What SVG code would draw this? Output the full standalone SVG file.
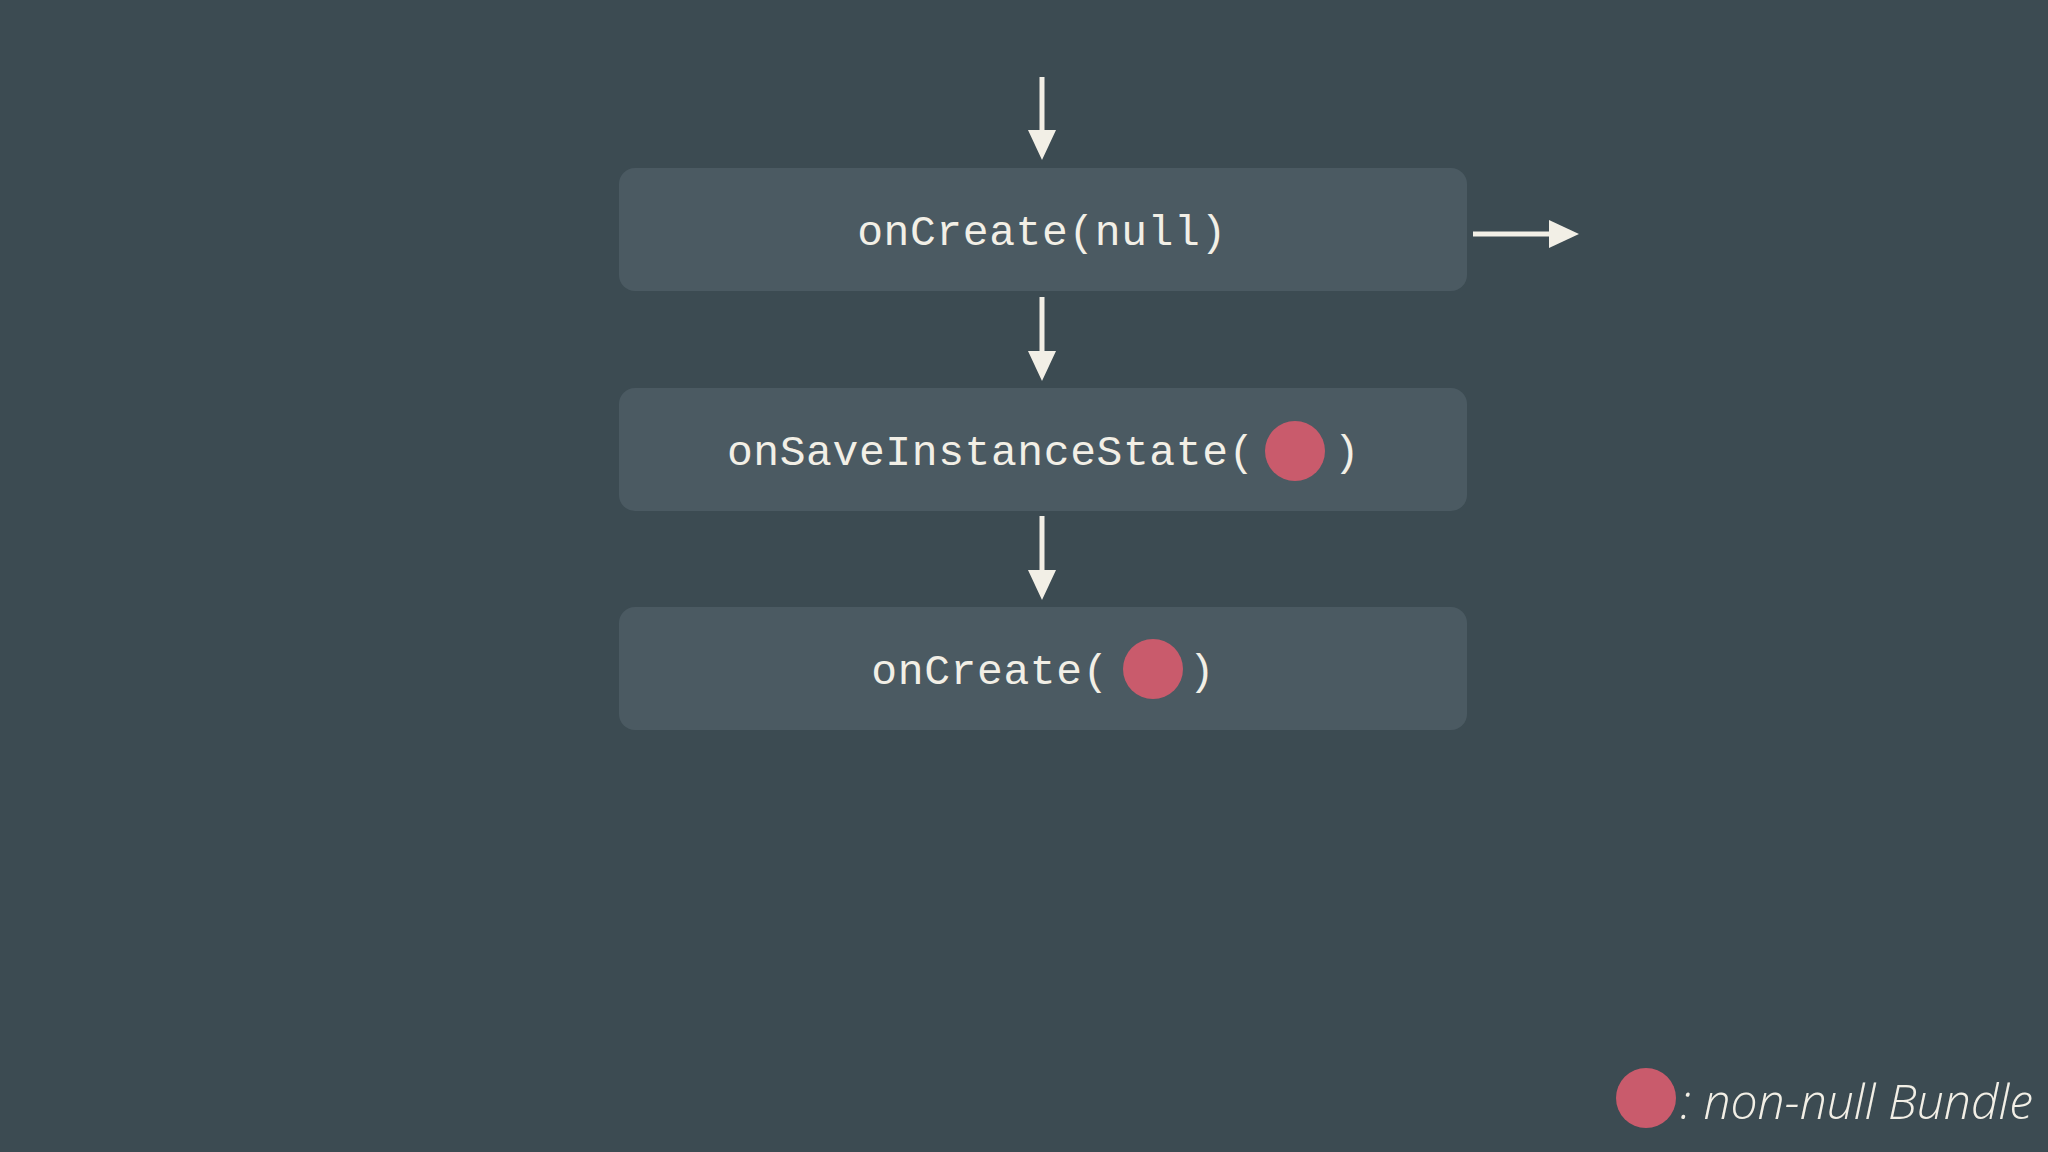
<svg xmlns="http://www.w3.org/2000/svg" width="2048" height="1152" viewBox="0 0 2048 1152">
  <defs>
    <style>
      .box { fill: #4b5a62; }
      .label { font-family: "Liberation Mono", "DejaVu Sans Mono", monospace; font-size: 43px; letter-spacing: 0.6px; fill: #f2efe6; }
      .bundle { fill: #c95b6c; }
      .conn { stroke: #f2efe6; stroke-width: 5; fill: none; }
      .legend { font-family: "Open Sans", "Lato", sans-serif; font-weight: 300; font-style: italic; font-size: 48px; fill: #f2efe6; }
    </style>
    <marker id="arrow" viewBox="0 0 30 28" refX="1" refY="14" markerWidth="30" markerHeight="28" markerUnits="userSpaceOnUse" orient="auto">
      <path d="M0,0 L30,14 L0,28 Z" fill="#f2efe6"/>
    </marker>
  </defs>
  <rect x="0" y="0" width="2048" height="1152" fill="#3c4b52"/>

  <g id="connectors">
    <line class="conn" x1="1042" y1="77" x2="1042" y2="131" marker-end="url(#arrow)"/>
    <line class="conn" x1="1042" y1="297" x2="1042" y2="352" marker-end="url(#arrow)"/>
    <line class="conn" x1="1042" y1="516" x2="1042" y2="571" marker-end="url(#arrow)"/>
    <line class="conn" x1="1473" y1="234" x2="1550" y2="234" marker-end="url(#arrow)" stroke-width="6"/>
  </g>

  <g id="node-oncreate-null">
    <rect class="box" x="619" y="168" width="848" height="123" rx="16"/>
    <text class="label" x="1042" y="245" text-anchor="middle">onCreate(null)</text>
  </g>

  <g id="node-onsaveinstancestate">
    <rect class="box" x="619" y="388" width="848" height="123" rx="16"/>
    <text class="label" x="1255" y="465" text-anchor="end">onSaveInstanceState(</text>
    <circle class="bundle" cx="1295" cy="451" r="30"/>
    <text class="label" x="1347" y="465" text-anchor="middle">)</text>
  </g>

  <g id="node-oncreate-bundle">
    <rect class="box" x="619" y="607" width="848" height="123" rx="16"/>
    <text class="label" x="1109" y="684" text-anchor="end">onCreate(</text>
    <circle class="bundle" cx="1153" cy="669" r="30"/>
    <text class="label" x="1202" y="684" text-anchor="middle">)</text>
  </g>

  <g id="legend">
    <circle class="bundle" cx="1646" cy="1098" r="30"/>
    <text class="legend" x="1680" y="1119" textLength="353" lengthAdjust="spacingAndGlyphs">: non-null Bundle</text>
  </g>
</svg>
